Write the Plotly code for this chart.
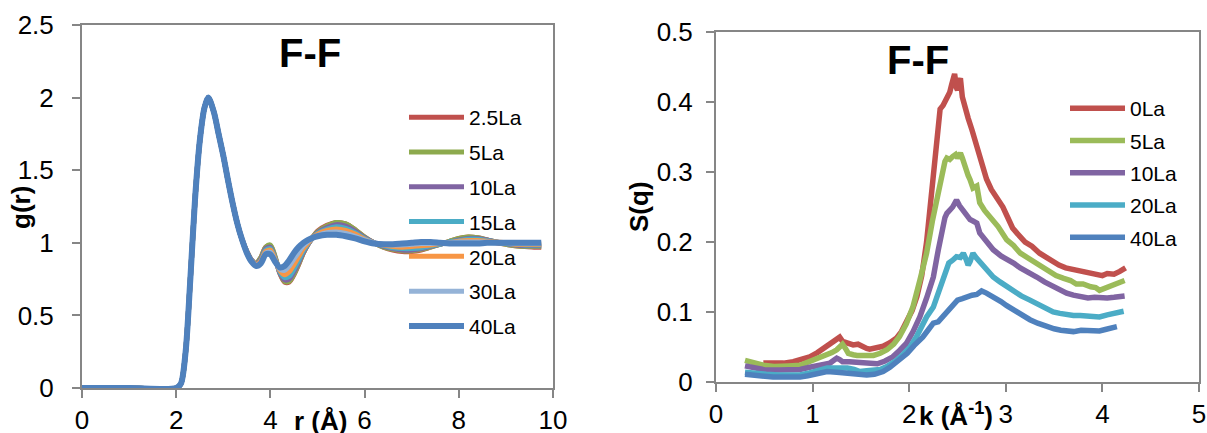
import plotly.graph_objects as go

# ---------------- Left chart: g(r) ----------------
r = [0, 1.0, 2.0, 2.1, 2.2, 2.3, 2.4, 2.5, 2.6, 2.68, 2.8, 2.9, 3.0, 3.1, 3.2, 3.3, 3.4,
     3.5, 3.6, 3.7, 3.8, 3.9, 4.0, 4.1, 4.2, 4.3, 4.4, 4.5, 4.6, 4.7, 4.8, 4.9, 5.0,
     5.2, 5.4, 5.6, 5.8, 6.0, 6.2, 6.4, 6.6, 6.8, 7.0, 7.2, 7.4, 7.6, 7.8, 8.0, 8.2,
     8.4, 8.6, 8.8, 9.0, 9.2, 9.4, 9.6, 9.75]
g_start = [0, 0, 0, 0.03, 0.25, 0.75, 1.3, 1.7, 1.93, 2.0, 1.9, 1.75, 1.6, 1.43, 1.27, 1.13, 1.02]

g_25La = g_start + [0.94, 0.88, 0.86, 0.90, 0.97, 0.98, 0.90, 0.79, 0.73, 0.73, 0.78, 0.85, 0.93, 0.99, 1.04, 1.08,
                    1.12, 1.14, 1.13, 1.09, 1.04, 1.00, 0.97, 0.95, 0.94, 0.94, 0.95, 0.97, 0.99, 1.01, 1.03, 1.04,
                    1.035, 1.02, 1.00, 0.99, 0.98, 0.975, 0.97, 0.97]
g_5La = g_start + [0.94, 0.88, 0.86, 0.90, 0.97, 0.985, 0.905, 0.795, 0.735, 0.735, 0.785, 0.855, 0.93, 0.99, 1.04, 1.075,
                   1.115, 1.14, 1.13, 1.09, 1.04, 1.0, 0.97, 0.955, 0.945, 0.945, 0.955, 0.97, 0.99, 1.01, 1.03, 1.04,
                   1.035, 1.02, 1.005, 0.99, 0.98, 0.975, 0.975, 0.975]
g_10La = g_start + [0.94, 0.88, 0.855, 0.89, 0.96, 0.97, 0.895, 0.795, 0.745, 0.75, 0.80, 0.865, 0.935, 0.99, 1.035, 1.07,
                    1.105, 1.125, 1.115, 1.08, 1.035, 1.0, 0.975, 0.96, 0.95, 0.95, 0.96, 0.975, 0.99, 1.005, 1.02, 1.03,
                    1.03, 1.02, 1.005, 0.995, 0.985, 0.98, 0.98, 0.98]
g_15La = g_start + [0.935, 0.875, 0.85, 0.88, 0.95, 0.96, 0.89, 0.80, 0.76, 0.77, 0.82, 0.88, 0.945, 0.995, 1.035, 1.065,
                    1.095, 1.11, 1.10, 1.07, 1.03, 1.0, 0.98, 0.965, 0.96, 0.96, 0.965, 0.98, 0.99, 1.005, 1.015, 1.025,
                    1.025, 1.015, 1.005, 0.995, 0.99, 0.985, 0.985, 0.985]
g_20La = g_start + [0.935, 0.875, 0.85, 0.875, 0.94, 0.95, 0.885, 0.81, 0.78, 0.80, 0.85, 0.905, 0.96, 1.0, 1.035, 1.06,
                    1.085, 1.095, 1.085, 1.06, 1.025, 1.0, 0.985, 0.975, 0.97, 0.975, 0.98, 0.985, 0.995, 1.0, 1.01, 1.015,
                    1.015, 1.01, 1.005, 1.0, 0.99, 0.99, 0.99, 0.99]
g_30La = g_start + [0.93, 0.87, 0.845, 0.865, 0.93, 0.935, 0.875, 0.82, 0.81, 0.84, 0.89, 0.935, 0.98, 1.01, 1.035, 1.05,
                    1.07, 1.075, 1.065, 1.045, 1.02, 1.0, 0.99, 0.985, 0.985, 0.99, 0.995, 0.995, 1.0, 1.0, 1.005, 1.005,
                    1.005, 1.005, 1.0, 1.0, 0.995, 0.995, 0.995, 0.995]
g_40La = g_start + [0.93, 0.87, 0.84, 0.86, 0.92, 0.92, 0.87, 0.83, 0.84, 0.88, 0.93, 0.97, 1.00, 1.02, 1.035, 1.045,
                    1.055, 1.055, 1.045, 1.03, 1.01, 0.995, 0.99, 0.99, 0.995, 1.00, 1.005, 1.005, 1.00, 0.995, 0.995, 0.995,
                    0.995, 1.00, 1.00, 1.00, 1.00, 1.00, 1.00, 1.00]

g_names = ["2.5La", "5La", "10La", "15La", "20La", "30La", "40La"]
g_series = [g_25La, g_5La, g_10La, g_15La, g_20La, g_30La, g_40La]
g_colors = ["#C0504D", "#8DAA4E", "#8064A2", "#4BACC6", "#F79646", "#95B3D7", "#4F81BD"]
g_widths = [5, 5, 5, 5, 5, 5, 6]

# ---------------- Right chart: S(q) ----------------
k_0La = [0.49, 0.6, 0.7, 0.8, 0.9, 0.97, 1.05, 1.11, 1.2, 1.25, 1.28, 1.31, 1.36, 1.42, 1.47, 1.52, 1.56, 1.59, 1.65,
         1.73, 1.8, 1.87, 1.92, 1.97, 2.03, 2.08, 2.13, 2.18, 2.22, 2.26, 2.3, 2.32, 2.35, 2.37, 2.4, 2.42, 2.44, 2.46,
         2.47, 2.49, 2.5, 2.52, 2.53, 2.55, 2.58, 2.61, 2.65, 2.68, 2.7, 2.74, 2.77, 2.8, 2.85, 2.92, 2.97, 3.02, 3.07,
         3.12, 3.2, 3.27, 3.35, 3.42, 3.48, 3.55, 3.62, 3.7, 3.8, 3.88, 3.95, 4.0, 4.05, 4.12, 4.18, 4.24]
s_0La = [0.027, 0.027, 0.027, 0.029, 0.032, 0.036, 0.042, 0.048, 0.057, 0.062, 0.064, 0.058, 0.056, 0.053, 0.054,
         0.05, 0.048, 0.047, 0.048, 0.051, 0.056, 0.063, 0.072, 0.084, 0.102, 0.122, 0.152, 0.2, 0.25, 0.3,
         0.35, 0.39, 0.395, 0.40, 0.41, 0.414, 0.425, 0.435, 0.44, 0.42, 0.417, 0.43, 0.434, 0.407, 0.39,
         0.377, 0.36, 0.345, 0.336, 0.32, 0.303, 0.29, 0.275, 0.26, 0.25, 0.235, 0.22, 0.212, 0.2, 0.194,
         0.184, 0.178, 0.172, 0.167, 0.163, 0.161, 0.157, 0.155, 0.153, 0.152, 0.155, 0.154, 0.158, 0.163]

k_5La = [0.3, 0.4, 0.49, 0.6, 0.66, 0.75, 0.87, 0.95, 1.04, 1.1, 1.15, 1.2, 1.25, 1.29, 1.31, 1.34, 1.37, 1.42, 1.46,
         1.55, 1.63, 1.7, 1.77, 1.84, 1.9, 1.97, 2.04, 2.11, 2.18, 2.24, 2.3, 2.34, 2.37, 2.39, 2.42, 2.45, 2.48, 2.5,
         2.53, 2.55, 2.58, 2.61, 2.63, 2.66, 2.7, 2.73, 2.78, 2.84, 2.92, 3.01, 3.08, 3.15, 3.25, 3.35, 3.45, 3.52,
         3.6, 3.67, 3.73, 3.8, 3.88, 3.93, 3.97, 4.02, 4.1, 4.16, 4.23]
s_5La = [0.031, 0.027, 0.024, 0.022, 0.022, 0.023, 0.024, 0.028, 0.034, 0.036, 0.039, 0.042, 0.046, 0.05, 0.054,
         0.048, 0.041, 0.039, 0.038, 0.038, 0.038, 0.041, 0.046, 0.054, 0.065, 0.083, 0.108, 0.145, 0.184, 0.23,
         0.27, 0.303, 0.315, 0.32, 0.318, 0.322, 0.325, 0.32, 0.327, 0.32, 0.305, 0.295, 0.289, 0.277, 0.28,
         0.256, 0.245, 0.236, 0.222, 0.203, 0.195, 0.184, 0.175, 0.165, 0.158, 0.152, 0.148, 0.145, 0.14, 0.14,
         0.136, 0.135, 0.131, 0.134, 0.139, 0.141, 0.145]

k_10La = [0.3, 0.4, 0.52, 0.65, 0.75, 0.87, 0.97, 1.08, 1.14, 1.18, 1.22, 1.25, 1.28, 1.31, 1.38, 1.46, 1.56, 1.67,
          1.75, 1.83, 1.9, 1.97, 2.04, 2.11, 2.18, 2.25, 2.3, 2.34, 2.37, 2.39, 2.42, 2.45, 2.47, 2.49, 2.52, 2.56,
          2.6, 2.63, 2.66, 2.7, 2.73, 2.8, 2.87, 2.95, 3.02, 3.08, 3.15, 3.24, 3.32, 3.4, 3.48, 3.56, 3.63, 3.7,
          3.77, 3.85, 3.92, 3.97, 4.05, 4.12, 4.18, 4.23]
s_10La = [0.023, 0.02, 0.017, 0.017, 0.017, 0.018, 0.021, 0.024, 0.026, 0.027, 0.031, 0.034, 0.032, 0.029, 0.029,
          0.028, 0.027, 0.026, 0.03, 0.036, 0.045, 0.055, 0.072, 0.093, 0.12, 0.15, 0.188, 0.217, 0.235, 0.241,
          0.245, 0.25, 0.255, 0.26, 0.252, 0.245, 0.236, 0.232, 0.23, 0.227, 0.213, 0.2, 0.189, 0.18, 0.175,
          0.17, 0.163, 0.157, 0.15, 0.143, 0.137, 0.131, 0.127, 0.124, 0.122, 0.12, 0.121, 0.12, 0.12, 0.121,
          0.122, 0.123]

k_20La = [0.3, 0.4, 0.52, 0.65, 0.75, 0.87, 0.97, 1.05, 1.15, 1.25, 1.36, 1.43, 1.49, 1.56, 1.63, 1.7, 1.78, 1.87,
          1.94, 2.01, 2.08, 2.13, 2.18, 2.25, 2.32, 2.37, 2.41, 2.45, 2.49, 2.53, 2.56, 2.59, 2.61, 2.63, 2.66, 2.69,
          2.73, 2.8, 2.87, 2.94, 3.01, 3.08, 3.16, 3.25, 3.33, 3.41, 3.49, 3.56, 3.63, 3.7, 3.77, 3.85, 3.92, 3.97,
          4.05, 4.13, 4.22]
s_20La = [0.014, 0.012, 0.011, 0.01, 0.01, 0.01, 0.013, 0.016, 0.02, 0.02, 0.02, 0.018, 0.015, 0.016, 0.017,
          0.018, 0.023, 0.031, 0.04, 0.05, 0.066, 0.08, 0.093, 0.107, 0.136, 0.155, 0.17, 0.174, 0.179, 0.178,
          0.184, 0.175, 0.167, 0.172, 0.184, 0.178, 0.172, 0.16, 0.15, 0.143, 0.136, 0.129, 0.123, 0.117, 0.111,
          0.105, 0.1, 0.098, 0.096, 0.095, 0.095, 0.094, 0.094, 0.093, 0.096, 0.098, 0.101]

k_40La = [0.3, 0.4, 0.5, 0.59, 0.7, 0.8, 0.87, 0.95, 1.05, 1.15, 1.25, 1.32, 1.39, 1.47, 1.56, 1.64, 1.73, 1.8, 1.86,
          1.9, 1.98, 2.05, 2.14, 2.2, 2.25, 2.3, 2.36, 2.41, 2.46, 2.5, 2.55, 2.6, 2.65, 2.7, 2.75, 2.8, 2.87, 2.95,
          3.01, 3.08, 3.16, 3.25, 3.33, 3.42, 3.5, 3.57, 3.63, 3.7, 3.78, 3.85, 3.9, 3.97, 4.03, 4.09, 4.15]
s_40La = [0.011, 0.009, 0.008, 0.007, 0.007, 0.007, 0.007, 0.009, 0.012, 0.015, 0.014, 0.013, 0.013, 0.012, 0.01,
          0.011, 0.015, 0.021, 0.027, 0.031, 0.041, 0.052, 0.064, 0.075, 0.084, 0.086, 0.095, 0.105, 0.112, 0.117,
          0.119, 0.122, 0.124, 0.125, 0.13, 0.127, 0.122, 0.115, 0.109, 0.103, 0.096, 0.089, 0.084, 0.079, 0.076,
          0.074, 0.073, 0.072, 0.074, 0.073, 0.074, 0.073, 0.075, 0.077, 0.079]

s_names = ["0La", "5La", "10La", "20La", "40La"]
s_x = [k_0La, k_5La, k_10La, k_20La, k_40La]
s_y = [s_0La, s_5La, s_10La, s_20La, s_40La]
s_colors = ["#C0504D", "#9BBB59", "#8064A2", "#4BACC6", "#4F81BD"]

left_ticks = [0, 2, 4, 6, 8, 10]
left_yticks = [0, 0.5, 1, 1.5, 2, 2.5]
right_ticks = [0, 1, 2, 3, 4, 5]
right_yticks = [0, 0.1, 0.2, 0.3, 0.4, 0.5]

FONT = "Liberation Sans, Arial, sans-serif"
W, H = 1207, 433

fig = go.Figure()

for i, (nm, ys, col, w) in enumerate(zip(g_names, g_series, g_colors, g_widths)):
    fig.add_trace(go.Scatter(x=r, y=ys, name=nm, mode="lines",
                             line=dict(color=col, width=w, shape="spline", smoothing=0.8),
                             xaxis="x", yaxis="y", legend="legend", legendgroup=f"g{i}"))

for i, (nm, xs, ys, col) in enumerate(zip(s_names, s_x, s_y, s_colors)):
    assert len(xs) == len(ys), nm
    fig.add_trace(go.Scatter(x=xs, y=ys, name=nm, mode="lines",
                             line=dict(color=col, width=5.5),
                             xaxis="x2", yaxis="y2", legend="legend2", legendgroup=f"s{i}"))

axis_common = dict(showgrid=False, zeroline=False, showline=True, mirror=True, automargin=False,
                   linecolor="#868686", linewidth=2, ticks="outside", ticklen=8,
                   tickcolor="#868686", tickwidth=2,
                   tickfont=dict(family=FONT, size=26, color="black"))

def px(x):
    return x / W

def py(y):
    return 1 - y / H

fig.update_layout(
    width=W, height=H, margin=dict(l=0, r=0, t=0, b=0, autoexpand=False),
    paper_bgcolor="white", plot_bgcolor="white",
    xaxis=dict(domain=[px(82), px(553)], range=[0, 10], tickvals=left_ticks,
               ticklabelstandoff=0, **axis_common),
    yaxis=dict(domain=[py(388), py(25)], range=[0, 2.5], tickvals=left_yticks,
               ticklabelstandoff=13, **axis_common),
    xaxis2=dict(domain=[px(716), px(1199)], range=[0, 5], tickvals=right_ticks, anchor="y2",
                ticklabelstandoff=0, **axis_common),
    yaxis2=dict(domain=[py(382), py(32)], range=[0, 0.5], tickvals=right_yticks, anchor="x2",
                ticklabelstandoff=8, **axis_common),
    legend=dict(x=px(404), y=py(97), xanchor="left", yanchor="top", bgcolor="rgba(0,0,0,0)",
                font=dict(family=FONT, size=21, color="black"), tracegroupgap=4.5, itemwidth=55),
    legend2=dict(x=px(1065), y=py(88), xanchor="left", yanchor="top", bgcolor="rgba(0,0,0,0)",
                 font=dict(family=FONT, size=21, color="black"), tracegroupgap=2, itemwidth=55),
    showlegend=True,
)

ann = [
    dict(text="<b>F-F</b>", x=px(310), y=py(53), font=dict(size=40)),
    dict(text="<b>F-F</b>", x=px(918), y=py(60), font=dict(size=40)),
    dict(text="<b>r (Å)</b>", x=px(320), y=py(421), font=dict(size=26)),
    dict(text="<b>k (Å<sup>-1</sup>)</b>", x=px(956), y=py(414), font=dict(size=26)),
    dict(text="<b>g(r)</b>", x=px(21), y=py(208), font=dict(size=26), textangle=-90),
    dict(text="<b>S(q)</b>", x=px(639), y=py(207), font=dict(size=26), textangle=-90),
]
for a in ann:
    a.update(xref="paper", yref="paper", showarrow=False, xanchor="center", yanchor="middle")
    a["font"].update(family=FONT, color="black")
fig.update_layout(annotations=ann)

fig.write_html("out.html", config={"displayModeBar": False},
               post_script="document.body.style.margin='0';document.body.style.padding='0';")
